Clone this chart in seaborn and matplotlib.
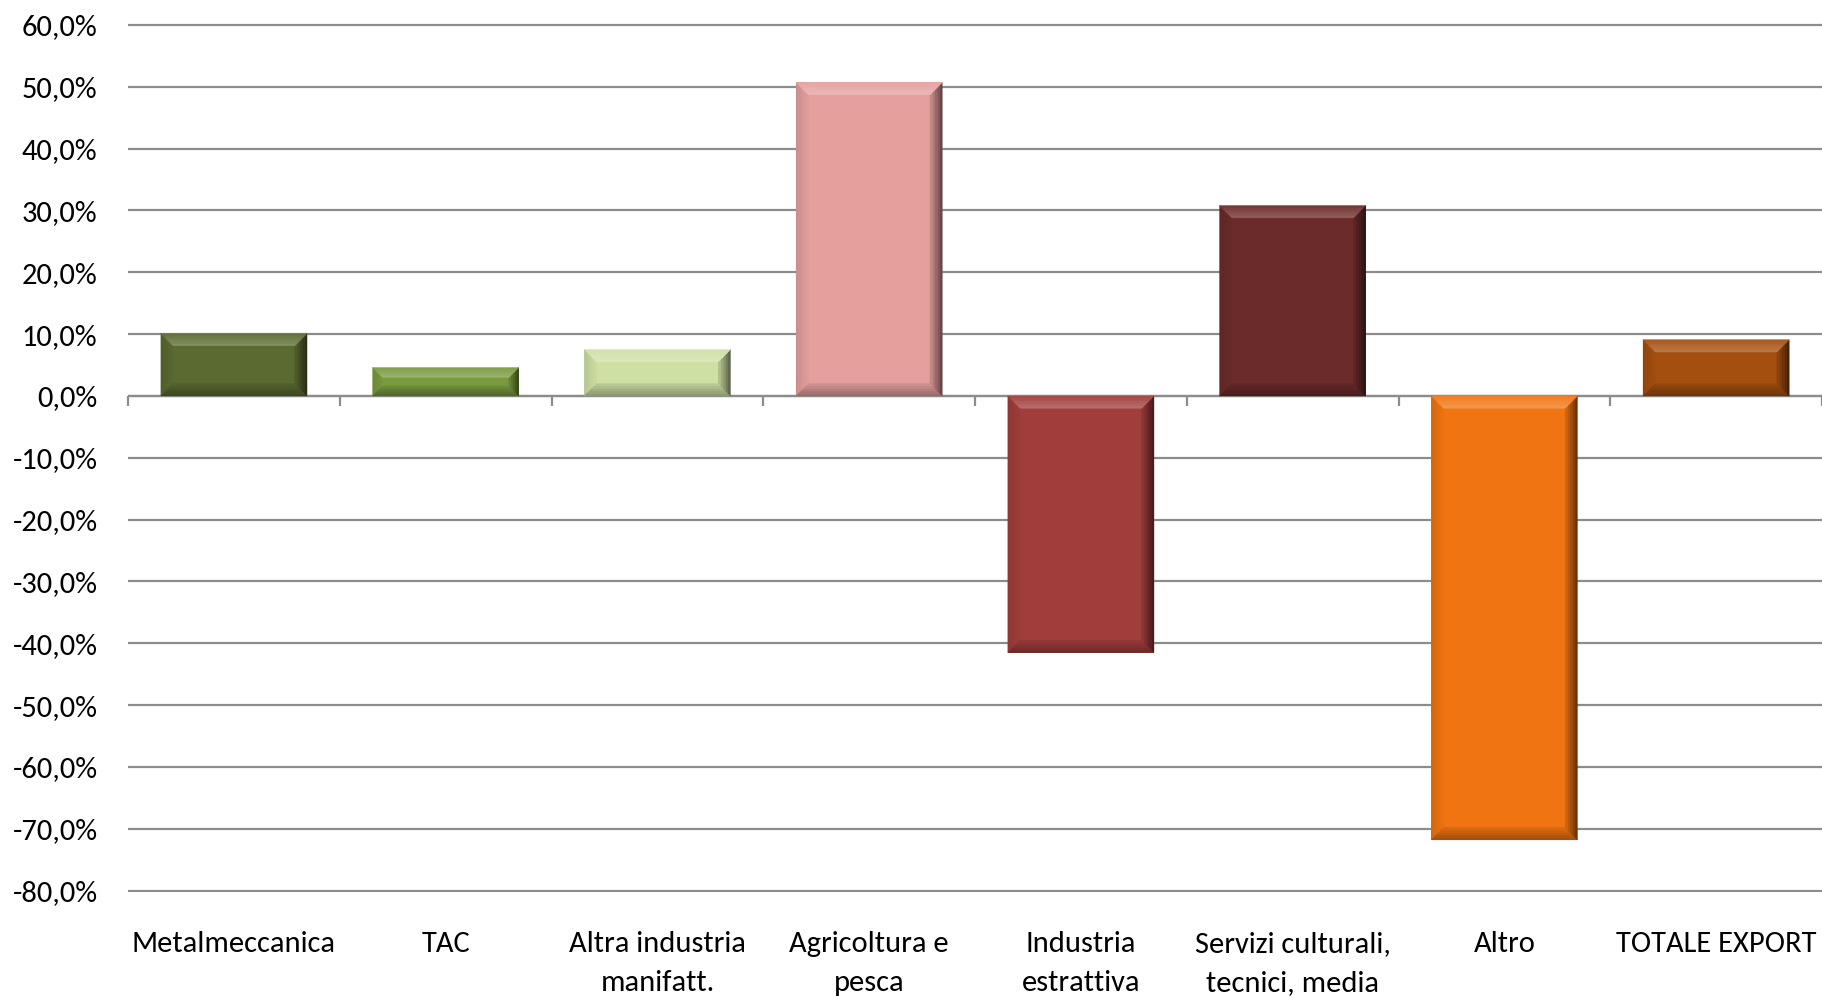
import matplotlib
matplotlib.use("Agg")
import matplotlib.pyplot as plt
from matplotlib import font_manager
from matplotlib.patches import Polygon
from matplotlib.colors import to_rgb
import seaborn as sns
import pandas as pd

# Export growth by sector
categories = [
    "Metalmeccanica",
    "TAC",
    "Altra industria\nmanifatt.",
    "Agricoltura e\npesca",
    "Industria\nestrattiva",
    "Servizi culturali,\ntecnici, media",
    "Altro",
    "TOTALE EXPORT",
]
values = [10.1, 4.6, 7.5, 50.7, -41.5, 30.8, -71.8, 9.1]
colors = ["#5b6a30", "#7a9a3e", "#cfe0a4", "#e5a09e", "#a13e3c",
          "#6b2b2a", "#f07512", "#a44f10"]
yticks = list(range(-80, 61, 10))

sns.set_theme(style="white")
available = {f.name for f in font_manager.fontManager.ttflist}
family = "DejaVu Sans"
size = 17
for name, sz in [("Carlito", 22), ("Liberation Sans Narrow", 21),
                 ("Open Sans", 18), ("Lato", 19)]:
    if name in available:
        family, size = name, sz
        break
plt.rcParams["font.family"] = [family, "DejaVu Sans"]

fig = plt.figure(figsize=(18.22, 9.97), dpi=100)
ax = fig.add_axes([0.0703, 0.1049, 0.9297, 0.8719])

df = pd.DataFrame({"settore": categories, "var": values})
sns.barplot(data=df, x="settore", y="var", hue="settore",
            palette=colors, width=0.69, legend=False, ax=ax,
            saturation=1, linewidth=0, zorder=3)

ax.set_xlim(-0.5, len(categories) - 0.5)
ax.set_ylim(-80.3, 60.3)
ax.set_yticks(yticks)
ax.set_yticklabels([f"{v:.1f}".replace(".", ",") + "%" for v in yticks])
ax.yaxis.grid(True, color="#8c8c8c", linewidth=1.6, zorder=0)
ax.set_axisbelow(True)
for s in ax.spines.values():
    s.set_visible(False)
ax.set_xlabel("")
ax.set_ylabel("")
ax.tick_params(axis="y", length=0, pad=22, labelsize=size, colors="black")
ax.tick_params(axis="x", length=0, pad=28, labelsize=size, colors="black")
for lab in ax.get_xticklabels():
    lab.set_linespacing(1.6)
    lab.set_va("top")

# zero line with category separators
ax.axhline(0, color="#8c8c8c", linewidth=1.6, zorder=2)
bounds = [i - 0.5 for i in range(len(categories) + 1)]
ax.vlines(bounds, -1.6, 0, color="#8c8c8c", linewidth=1.6, zorder=2,
          clip_on=False)


def shade(c, f):
    r, g, b = to_rgb(c)
    if f >= 0:
        return (r + (1 - r) * f, g + (1 - g) * f, b + (1 - b) * f)
    return (r * (1 + f), g * (1 + f), b * (1 + f))


def band(p_outer, p_inner, col, f_outer, f_inner, steps=5):
    # draw a bevel band as a stack of thin strips shading outer -> inner
    (a0, a1), (b0, b1) = p_outer, p_inner
    for k in range(steps):
        t0, t1 = k / steps, (k + 1) / steps
        pts = [
            (a0[0] + (b0[0] - a0[0]) * t0, a0[1] + (b0[1] - a0[1]) * t0),
            (a1[0] + (b1[0] - a1[0]) * t0, a1[1] + (b1[1] - a1[1]) * t0),
            (a1[0] + (b1[0] - a1[0]) * t1, a1[1] + (b1[1] - a1[1]) * t1),
            (a0[0] + (b0[0] - a0[0]) * t1, a0[1] + (b0[1] - a0[1]) * t1),
        ]
        f = f_outer + (f_inner - f_outer) * (k + 0.5) / steps
        ax.add_patch(Polygon(pts, closed=True, facecolor=shade(col, f),
                             edgecolor=shade(col, f), linewidth=0.3,
                             zorder=4))


# bevelled edges on each bar
for patch, col in zip(ax.patches, colors):
    x0 = patch.get_x()
    x1 = x0 + patch.get_width()
    y0 = min(patch.get_y(), patch.get_y() + patch.get_height())
    y1 = max(patch.get_y(), patch.get_y() + patch.get_height())
    h = y1 - y0
    bh = min(2.0, h * 0.35)
    bw = max(0.058 * bh / 2.0, 0.045)
    tl, tr = (x0, y1), (x1, y1)
    bl, br = (x0, y0), (x1, y0)
    itl, itr = (x0 + bw, y1 - bh), (x1 - bw, y1 - bh)
    ibl, ibr = (x0 + bw, y0 + bh), (x1 - bw, y0 + bh)
    band((bl, tl), (ibl, itl), col, -0.12, -0.02)
    band((bl, br), (ibl, ibr), col, -0.35, -0.08)
    band((tr, br), (itr, ibr), col, -0.60, -0.10)
    band((tl, tr), (itl, itr), col, 0.05, 0.25)

fig.savefig("out.png", dpi=100, facecolor="white")
